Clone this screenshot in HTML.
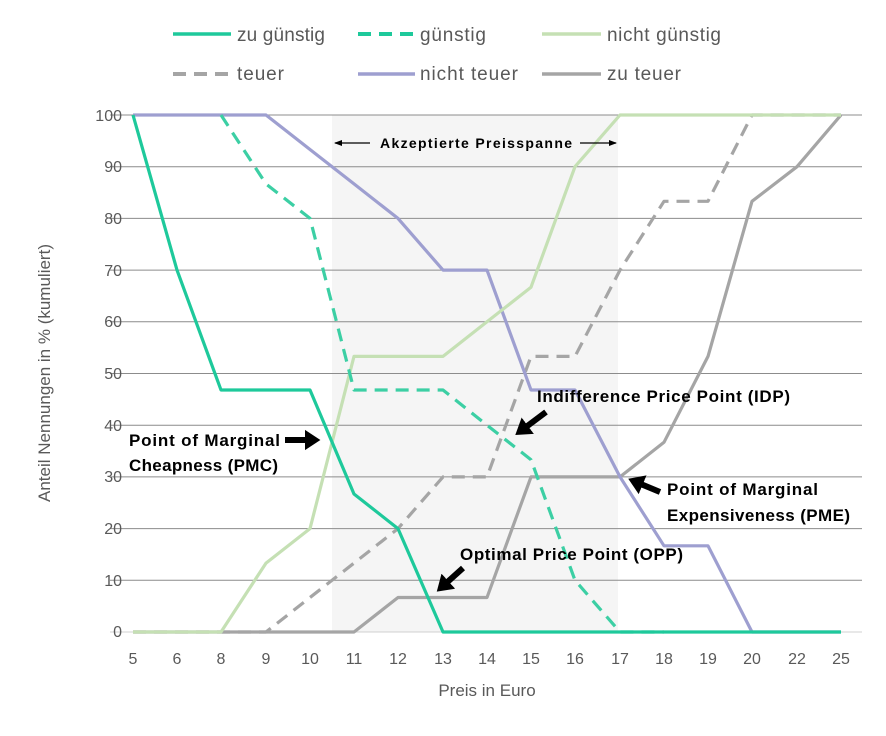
<!DOCTYPE html>
<html><head><meta charset="utf-8"><style>
body{margin:0;background:#fff}
svg text{font-family:"Liberation Sans",sans-serif}
</style></head><body>
<svg width="886" height="731" viewBox="0 0 886 731" xmlns="http://www.w3.org/2000/svg">
<defs>
<marker id="ah" markerWidth="3" markerHeight="4" refX="1.2" refY="2" orient="auto" markerUnits="strokeWidth"><path d="M0,0.3 L2.6,2 L0,3.7 z" fill="#000"/></marker>
<marker id="sa" markerWidth="8" markerHeight="8" refX="7" refY="4" orient="auto" markerUnits="userSpaceOnUse"><path d="M0,1 L8,4 L0,7 z" fill="#000"/></marker>
</defs>
<rect x="332" y="115" width="286" height="517" fill="#f5f5f5"/>
<g stroke="#8c8c8c" stroke-width="1">
<line x1="110" y1="115" x2="862" y2="115"/><line x1="110" y1="166.7" x2="862" y2="166.7"/>
<line x1="110" y1="218.4" x2="862" y2="218.4"/><line x1="110" y1="270.1" x2="862" y2="270.1"/>
<line x1="110" y1="321.8" x2="862" y2="321.8"/><line x1="110" y1="373.5" x2="862" y2="373.5"/>
<line x1="110" y1="425.2" x2="862" y2="425.2"/><line x1="110" y1="476.9" x2="862" y2="476.9"/>
<line x1="110" y1="528.6" x2="862" y2="528.6"/><line x1="110" y1="580.3" x2="862" y2="580.3"/>
<line x1="110" y1="632" x2="862" y2="632" stroke="#d0d0d0"/>
</g>
<g font-size="16" fill="#595959" text-anchor="end">
<text x="122" y="121">100</text><text x="122" y="172">90</text><text x="122" y="224">80</text><text x="122" y="276">70</text><text x="122" y="327">60</text><text x="122" y="379">50</text><text x="122" y="431">40</text><text x="122" y="482">30</text><text x="122" y="534">20</text><text x="122" y="586">10</text><text x="122" y="637">0</text>
</g>
<g font-size="16" fill="#595959" text-anchor="middle">
<text x="133" y="664">5</text><text x="177" y="664">6</text><text x="221" y="664">8</text><text x="266" y="664">9</text><text x="310" y="664">10</text><text x="354" y="664">11</text><text x="398" y="664">12</text><text x="443" y="664">13</text><text x="487" y="664">14</text><text x="531" y="664">15</text><text x="575" y="664">16</text><text x="620" y="664">17</text><text x="664" y="664">18</text><text x="708" y="664">19</text><text x="752" y="664">20</text><text x="797" y="664">22</text><text x="841" y="664">25</text>
<text x="487" y="696" font-size="17">Preis in Euro</text>
<text transform="translate(50,373) rotate(-90)" font-size="17">Anteil Nennungen in % (kumuliert)</text>
</g>
<g fill="none" stroke-width="3.2" stroke-linejoin="round">
<polyline stroke="#a5a5a5" points="133,632 177,632 221,632 266,632 310,632 354,632 398,597.5 443,597.5 487,597.5 531,476.9 575,476.9 620,476.9 664,442.3 708,356.4 752,201.3 797,166.7 841,115"/>
<polyline stroke="#a5a5a5" stroke-dasharray="13,8" points="133,632 177,632 221,632 266,632 310,597.5 354,563.1 398,528.6 443,476.9 487,476.9 531,356.4 575,356.4 620,270.1 664,201.3 708,201.3 752,115 797,115 841,115"/>
<polyline stroke="#9e9fd0" points="133,115 177,115 221,115 266,115 310,149.5 354,183.9 398,218.4 443,270.1 487,270.1 531,390 575,390 620,476.9 664,545.8 708,545.8 752,632 797,632 841,632"/>
<polyline stroke="#c5e0b4" points="133,632 177,632 221,632 266,563.1 310,528.6 354,356.4 398,356.4 443,356.4 487,321.8 531,287.2 575,166.7 620,115 664,115 708,115 752,115 797,115 841,115"/>
<polyline stroke="#3ccfa4" stroke-dasharray="13,8" points="221,115 266,183.9 310,218.4 354,390 398,390 443,390 487,425.2 531,459.7 575,580.3 620,632 664,632"/>
<polyline stroke="#1ec99b" points="133,115 177,270.1 221,390 266,390 310,390 354,494 398,528.6 443,632 487,632 531,632 575,632 620,632 664,632 708,632 752,632 797,632 841,632"/>
</g>
<g font-size="19" fill="#595959">
<line x1="173" y1="34" x2="231" y2="34" stroke="#1ec99b" stroke-width="3.5"/><text x="237" y="41" textLength="88">zu günstig</text>
<line x1="358" y1="34" x2="415" y2="34" stroke="#1ec99b" stroke-width="4" stroke-dasharray="13,8"/><text x="420" y="41" textLength="66">günstig</text>
<line x1="542" y1="34" x2="601" y2="34" stroke="#c5e0b4" stroke-width="3.5"/><text x="607" y="41" textLength="114">nicht günstig</text>
<line x1="173" y1="74" x2="231" y2="74" stroke="#a5a5a5" stroke-width="4" stroke-dasharray="13,8"/><text x="237" y="80" textLength="47">teuer</text>
<line x1="358" y1="74" x2="415" y2="74" stroke="#9e9fd0" stroke-width="3.5"/><text x="420" y="80" textLength="98">nicht teuer</text>
<line x1="542" y1="74" x2="601" y2="74" stroke="#a5a5a5" stroke-width="3.5"/><text x="607" y="80" textLength="74">zu teuer</text>
</g>
<g font-weight="bold" fill="#000">
<text x="380" y="148" font-size="14" textLength="192">Akzeptierte Preisspanne</text>
<line x1="370" y1="143" x2="335" y2="143" stroke="#000" stroke-width="1.2" marker-end="url(#sa)"/>
<line x1="580" y1="143" x2="616" y2="143" stroke="#000" stroke-width="1.2" marker-end="url(#sa)"/>
<text x="537" y="402" font-size="17" textLength="253">Indifference Price Point (IDP)</text>
<text x="129" y="446" font-size="17" textLength="151">Point of Marginal</text>
<text x="129" y="471" font-size="17" textLength="149">Cheapness (PMC)</text>
<text x="667" y="495" font-size="17" textLength="151">Point of Marginal</text>
<text x="667" y="521" font-size="17" textLength="183">Expensiveness (PME)</text>
<text x="460" y="560" font-size="17" textLength="223">Optimal Price Point (OPP)</text>
</g>
<g stroke="#000" stroke-width="6" marker-end="url(#ah)">
<line x1="285" y1="440" x2="312" y2="440"/>
<line x1="546" y1="412" x2="522" y2="430"/>
<line x1="660" y1="492" x2="636" y2="482"/>
<line x1="463" y1="568" x2="443" y2="586"/>
</g>
</svg>
</body></html>
